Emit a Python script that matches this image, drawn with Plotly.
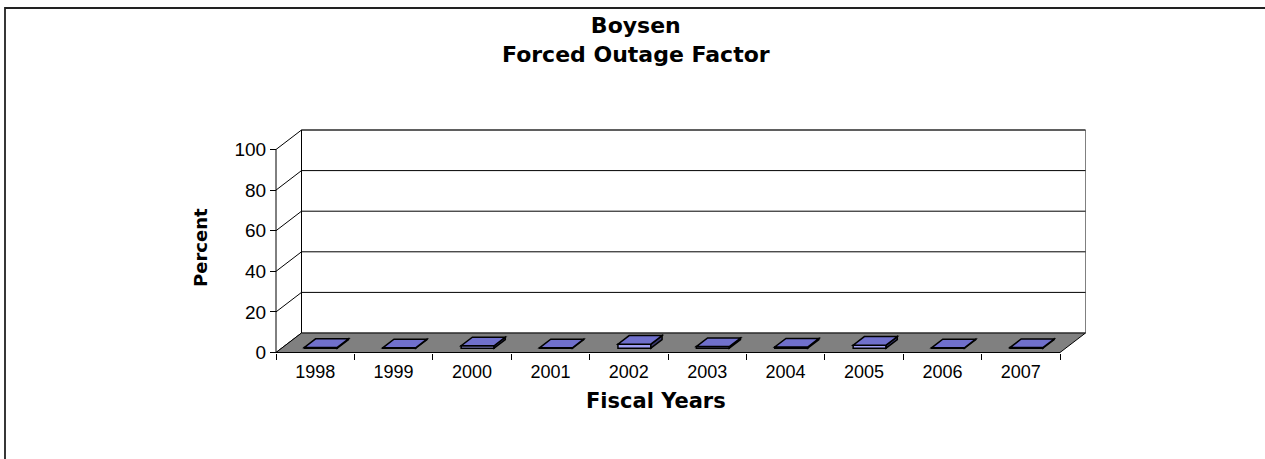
import plotly.graph_objects as go

# ---- data ----
years = ["1998", "1999", "2000", "2001", "2002", "2003", "2004", "2005", "2006", "2007"]
forced_outage_pct = [0.4, 0.2, 1.2, 0.2, 2.0, 0.8, 0.6, 1.5, 0.2, 0.3]
y_ticks = [0, 20, 40, 60, 80, 100]

# ---- geometry (pixels) ----
W, H = 1265, 459
L, R, T, B = 266, 174, 125, 102
plot_w = W - L - R
plot_h = H - T - B
px_cat = 78.4          # pixels per category
px_unit = 2.03         # pixels per percent
front_left_px = 276    # pixel of x = -0.5
zero_px = 352.5        # pixel of y = 0
depth_px_x, depth_px_y = 25.5, 19.5

xmin = -0.5 - (front_left_px - L) / px_cat
xmax = xmin + plot_w / px_cat
ymin = -((H - B) - zero_px) / px_unit
ymax = ymin + plot_h / px_unit
DX = depth_px_x / px_cat
DY = depth_px_y / px_unit

n = len(years)
x0f, x1f = -0.5, n - 0.5
ytop = y_ticks[-1]

shapes = []

def poly(pts, fill, color="black", width=1):
    d = "M " + " L ".join(f"{x},{y}" for x, y in pts) + " Z"
    shapes.append(dict(type="path", path=d, xref="x", yref="y",
                       fillcolor=fill, line=dict(color=color, width=width), layer="above"))

def seg(xa, ya, xb, yb, color="black", width=1):
    shapes.append(dict(type="line", x0=xa, y0=ya, x1=xb, y1=yb, xref="x", yref="y",
                       line=dict(color=color, width=width), layer="above"))

# back wall
poly([(x0f + DX, DY), (x1f + DX, DY), (x1f + DX, ytop + DY), (x0f + DX, ytop + DY)],
     "white", color="#808080", width=1)
seg(x0f + DX, ytop + DY, x1f + DX, ytop + DY)
# gridlines on back wall and diagonals on side wall
for t in y_ticks:
    if 0 < t < ytop:
        seg(x0f + DX, t + DY, x1f + DX, t + DY, color="black", width=1)
    seg(x0f, t, x0f + DX, t + DY, color="black", width=1)
seg(x0f + DX, DY, x0f + DX, ytop + DY)
# floor
poly([(x0f, 0), (x1f, 0), (x1f + DX, DY), (x0f + DX, DY)], "#808080", color="black", width=1)
# front axis lines
seg(x0f, 0, x0f, ytop)
seg(x0f, 0, x1f, 0)

# bars
bw = 0.21
f0, f1 = 0.22, 0.66
for i, v in enumerate(forced_outage_pct):
    a = i - bw + DX * f0
    b = i + bw + DX * f0
    a2 = i - bw + DX * f1
    b2 = i + bw + DX * f1
    y0 = DY * f0
    y1 = DY * f1
    # front
    poly([(a, y0), (b, y0), (b, y0 + v), (a, y0 + v)], "#A0A0F4", width=1.5)
    # side
    poly([(b, y0), (b2, y1), (b2, y1 + v), (b, y0 + v)], "#3A3A6E", width=1.5)
    # top
    poly([(a, y0 + v), (b, y0 + v), (b2, y1 + v), (a2, y1 + v)], "#7070CC", width=1.5)

# figure border
def px2paper_x(px):
    return (px - L) / plot_w

def px2paper_y(py):
    return ((H - B) - py) / plot_h

shapes.append(dict(type="rect", xref="paper", yref="paper",
                   x0=px2paper_x(5), x1=px2paper_x(1290),
                   y0=px2paper_y(490), y1=px2paper_y(8),
                   line=dict(color="#222222", width=1.8), fillcolor="rgba(0,0,0,0)"))

font_family = "Liberation Sans, Arial, sans-serif"
bold_family = "DejaVu Sans, Liberation Sans, Arial, sans-serif"

fig = go.Figure()
fig.add_trace(go.Scatter(x=[0], y=[0], mode="markers", marker=dict(opacity=0),
                         hoverinfo="skip", showlegend=False))

fig.update_layout(
    width=W, height=H,
    margin=dict(l=L, r=R, t=T, b=B),
    paper_bgcolor="white", plot_bgcolor="rgba(0,0,0,0)",
    showlegend=False,
    shapes=shapes,
    xaxis=dict(range=[xmin, xmax], showgrid=False, zeroline=False, showline=False,
               tickmode="array", tickvals=list(range(n)), ticktext=years, ticks="",
               tickfont=dict(family=font_family, size=18, color="black"),
               ticklabelstandoff=6,
               anchor="free", position=px2paper_y(zero_px),
               minor=dict(tickmode="array", tickvals=[i - 0.5 for i in range(n + 1)],
                          ticks="outside", ticklen=6, tickcolor="black", tickwidth=1,
                          showgrid=False),
               fixedrange=True),
    yaxis=dict(range=[ymin, ymax], showgrid=False, zeroline=False, showline=False,
               tickmode="array", tickvals=y_ticks, ticks="outside", ticklen=6,
               tickcolor="black", tickwidth=1,
               tickfont=dict(family=font_family, size=19, color="black"),
               anchor="free", position=px2paper_x(front_left_px),
               fixedrange=True),
    annotations=[
        dict(text="<b>Boysen</b><br><b>Forced Outage Factor</b>", xref="paper", yref="paper",
             x=px2paper_x(636), y=px2paper_y(40), xanchor="center", yanchor="middle",
             showarrow=False,
             font=dict(family=bold_family, size=22, color="black")),
        dict(text="<b>Percent</b>", xref="paper", yref="paper",
             x=px2paper_x(200), y=px2paper_y(248), textangle=-90,
             xanchor="center", yanchor="middle",
             showarrow=False, font=dict(family=bold_family, size=18, color="black")),
        dict(text="<b>Fiscal Years</b>", xref="paper", yref="paper",
             x=px2paper_x(656), y=px2paper_y(401), xanchor="center", yanchor="middle",
             showarrow=False, font=dict(family=bold_family, size=21, color="black")),
    ],
)

fig.write_html("out.html", post_script="document.body.style.margin='0';",
               config={"displayModeBar": False})
